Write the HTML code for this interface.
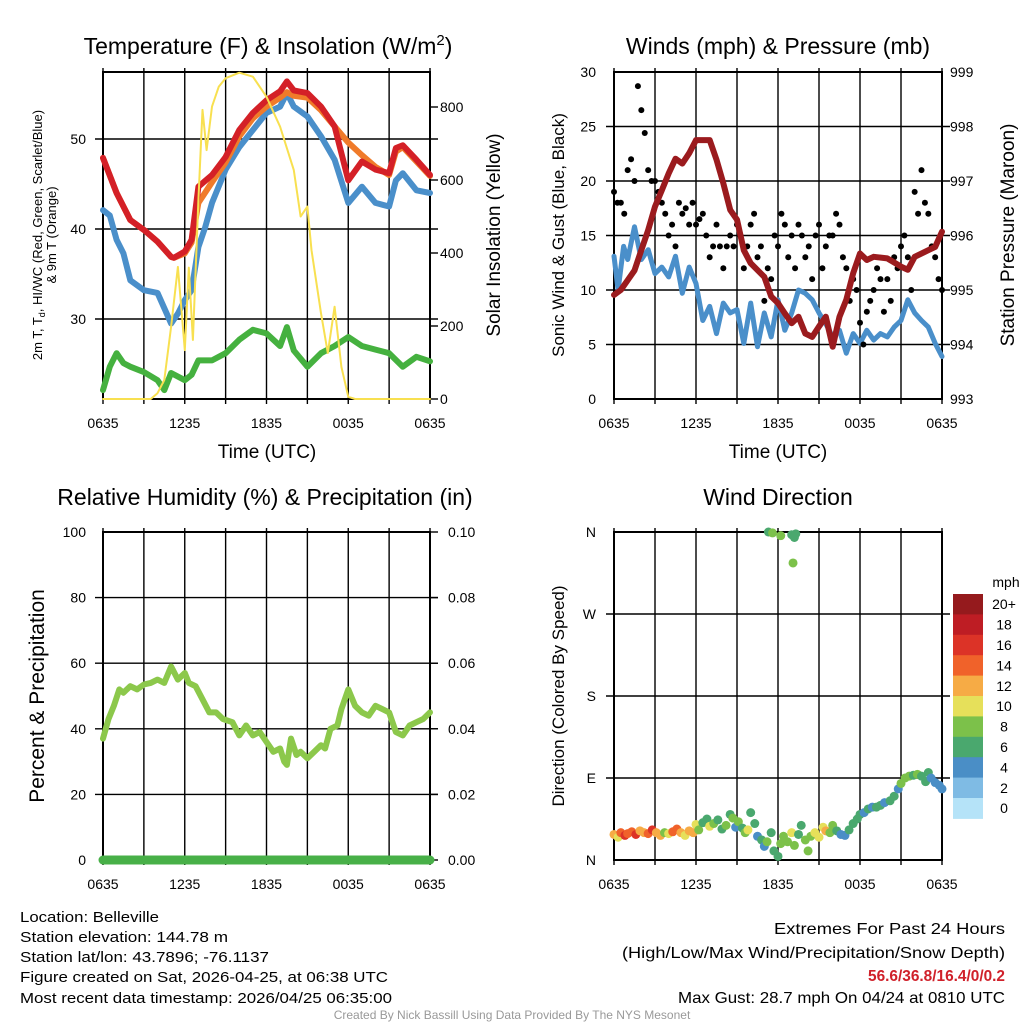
<!DOCTYPE html>
<html><head><meta charset="utf-8"><style>
html,body{margin:0;padding:0;background:#fff;}
svg{display:block;font-family:"Liberation Sans",sans-serif;}
</style></head><body>
<svg id="root" width="1024" height="1024" viewBox="0 0 1024 1024">
<rect width="1024" height="1024" fill="#fff"/>
<g id="p1"></g>
<g id="p2"></g>
<g id="p3"></g>
<g id="p4"></g>
<g font-size="15" fill="#000">
<text x="20" y="922" textLength="139" lengthAdjust="spacingAndGlyphs">Location: Belleville</text>
<text x="20" y="942" textLength="208" lengthAdjust="spacingAndGlyphs">Station elevation: 144.78 m</text>
<text x="20" y="962" textLength="249" lengthAdjust="spacingAndGlyphs">Station lat/lon: 43.7896; -76.1137</text>
<text x="20" y="982" textLength="368" lengthAdjust="spacingAndGlyphs">Figure created on Sat, 2026-04-25, at 06:38 UTC</text>
<text x="20" y="1003" textLength="372" lengthAdjust="spacingAndGlyphs">Most recent data timestamp: 2026/04/25 06:35:00</text>
</g>
<g font-size="16" text-anchor="end">
<text x="1005" y="934" textLength="231" lengthAdjust="spacingAndGlyphs">Extremes For Past 24 Hours</text>
<text x="1005" y="958" textLength="383" lengthAdjust="spacingAndGlyphs">(High/Low/Max Wind/Precipitation/Snow Depth)</text>
<text x="1005" y="981" textLength="137" lengthAdjust="spacingAndGlyphs" fill="#d0212a" font-weight="bold">56.6/36.8/16.4/0/0.2</text>
<text x="1005" y="1003" textLength="327" lengthAdjust="spacingAndGlyphs">Max Gust: 28.7 mph On 04/24 at 0810 UTC</text>
</g>
<text x="512" y="1019" font-size="12" fill="#999" text-anchor="middle">Created By Nick Bassill Using Data Provided By The NYS Mesonet</text>
</svg>
<script>
// ---- data ----
const xTickLabels = ["0635","1235","1835","0035","0635"];
// Panel 1
const tempTimes = [0,1,2,3,4,5,5.2,6,6.5,7,8,9,10,11,12,13,13.5,14,15,16,17,18,19,20,21,21.5,22,23,24];
const temp2m   = [47.9,44,41,39.9,38.6,36.9,36.8,37.5,38.8,44.7,46,48,51,52.9,54.3,55.3,56.4,55.4,55.1,53.6,51.4,45.4,47.5,46.6,46.2,49,49.3,47.7,46];
const temp9m   = [47.9,44,41,39.9,38.6,36.9,36.8,37.3,38.5,42.9,45.2,47.4,50.3,52.3,53.6,54.6,55.2,54.8,54.6,53.2,51.4,49.6,48.2,46.9,46,48.6,49.1,47.5,45.9];
const dewTimes = [0,0.5,1,1.5,2,3,4,5,5.5,6,6.5,7,7.5,8,9,10,11,12,13,13.5,14,15,16,17,18,19,20,21,21.5,22,23,24];
const dewpoint = [42.1,41.5,38.8,37.3,34.3,33.2,32.9,29.5,30.6,32.1,33.2,38,40.2,42.9,46.6,49.1,51,52.9,53.6,55.1,53.6,52.5,50.3,47.7,42.9,44.7,42.9,42.5,45.4,46.2,44.3,44];
const grnTimes = [0,0.5,1,1.5,2,3,4,4.5,5,6,6.5,7,8,9,10,11,12,13,13.5,14,15,16,17,18,19,20,21,22,23,24];
const greenT   = [22.1,24.7,26.2,25.1,24.7,24.1,23.2,22.1,24,23.2,23.8,25.4,25.4,26.2,27.7,28.8,28.4,27,29.1,26.5,24.7,26.2,27,28,27,26.6,26.2,24.7,25.8,25.3];
const solTimes = [0,3.5,4,4.5,5,5.5,6,6.3,6.6,7,7.3,7.6,8,8.5,9,10,11,12,13,14,14.5,15,15.3,16,16.5,17,17.5,18,18.5,24];
const solar    = [0,0,16,52,198,362,134,360,162,545,792,682,801,856,879,894,883,828,746,627,500,527,408,235,126,253,88,6,0,0];
// Panel 2
const windTimes = [0,0.3,0.7,1,1.5,2,2.5,3,3.5,4,4.5,5,5.5,6,6.5,7,7.5,8,8.5,9,9.5,10,10.5,11,11.5,12,12.5,13,13.5,14,14.5,15,15.5,16,16.5,17,17.5,18,18.5,19,19.5,20,20.5,21,21.5,22,22.5,23,23.5,24];
const sonicWind = [13.1,10,14,12.8,15.8,12.8,13.7,11.5,12.1,11.2,13.1,9.7,12.1,10.6,7.2,8.5,6,8.8,7.9,8.2,5.1,8.8,4.8,7.9,5.7,9.1,6.3,7.9,10,9.7,9.1,7.9,6.9,5.7,6.3,4.2,6,5.1,6.3,5.4,6,5.7,6.6,7.2,9.1,7.9,7.2,6.6,5.1,3.9];
const gust = [19,18,18,17,21,22,20,28.7,26.5,24.4,21,20,20,19,18,17,15,16,14,18,17,17.5,16,18,16,16.5,17,15,13,14,16,14,12,14,15,14,16,15,12,14,16,17,13,14,9,12,11,15,14,17,16,13,15,12,16,15,13,14,11,15,16,12,14,15,15,17,16,13,12,9,11,10,7,5,8,9,10,12,11,8,11,9,13,12,14,15,13,10,19,17,21,18,17,14,13,11,10];
const presTimes = [0,0.5,1,1.5,2,2.5,3,3.5,4,4.5,5,5.5,6,6.5,7,7.5,8,8.5,9,9.5,10,11,11.5,12,12.5,13,13.5,14,14.5,15,15.5,16,16.5,17,17.5,18,18.5,19,20,21,21.5,22,23,23.5,24];
const pressure = [994.91,995.0,995.18,995.36,995.73,996.1,996.53,996.83,997.14,997.41,997.32,997.51,997.75,997.75,997.75,997.39,996.96,996.47,996.29,995.73,995.49,995.24,994.88,994.76,994.57,994.39,994.51,994.2,994.14,994.33,994.51,993.96,994.51,994.82,995.31,995.67,995.55,995.61,995.58,995.43,995.37,995.61,995.73,995.79,996.07];
// Panel 3
const rhTimes = [0,0.4,0.8,1.2,1.5,2,2.5,3,3.5,4,4.5,5,5.5,6,6.3,6.8,7.3,7.8,8.3,8.8,9.5,10,10.5,11,11.5,12,12.5,13,13.3,13.5,13.8,14.2,14.5,15,15.5,16,16.3,16.7,17.2,17.5,18,18.5,19,19.5,20,20.5,21,21.5,22,22.5,23,23.5,24];
const rh = [37,43,47,52,51,53,52,53.5,54,55,54,59,55,57,54,53,49,45,45,43,42,38,41,38,39,36,33,34,30,29,37,32,33,31,33,35,34,40,41,46,52,47,45,44,47,46,45,39,38,41,42,43,45];
const precipTimes = [0,24];
const precip = [0,0];
// Panel 4
const dirTimes = [0,0.3,0.5,0.8,1.0,1.3,1.6,1.9,2.2,2.5,2.8,3.1,3.4,3.7,4.0,4.3,4.6,4.9,5.2,5.5,5.8,6.0,6.2,6.5,6.8,7.0,7.3,7.6,7.9,8.2,8.5,8.7,8.9,9.1,9.4,9.6,9.8,10.0,10.3,10.5,10.8,11.0,11.2,11.5,11.7,12.0,12.2,12.4,12.7,13.0,13.2,13.5,13.7,14.0,14.2,14.4,14.7,15.0,15.3,15.5,15.8,16.0,16.3,16.6,16.9,17.2,17.5,17.8,18.0,18.3,18.6,18.9,19.2,19.5,19.8,20.2,20.5,20.8,21.0,21.3,21.6,21.9,22.2,22.5,22.8,23.0,23.2,23.5,23.8,24.0,11.3,11.6,12.2,13.0,13.3,13.2,13.1];
const dirDeg = [28,25,30,27,29,31,28,32,30,29,33,30,27,30,29,31,34,30,27,32,30,39,33,41,45,37,40,44,34,38,50,46,36,42,35,30,33,52,40,26,22,15,20,30,10,4,18,26,20,30,16,28,38,22,10,26,30,25,36,32,30,38,32,28,27,33,40,45,50,52,56,58,58,60,63,65,70,78,84,90,92,93,94,92,86,96,90,85,82,78,360,359,356,357,358,354,326];
const dirSpeed = [12,10,14,16,15,14,17,13,12,14,17,12,13,8,11,14,15,12,11,12,13,10,8,6,7,10,8,6,7,8,6,8,4,8,7,8,11,6,6,4,6,4,8,6,6,6,8,8,8,10,8,6,6,8,8,8,10,10,10,12,8,8,6,4,4,6,6,6,6,4,6,4,6,6,4,6,6,4,8,8,8,6,8,6,6,6,4,4,4,4,6,8,8,6,6,7,8];
const cbLabels = ["20+","18","16","14","12","10","8","6","4","2","0"];
const cbColors = ["#951a1d","#be1d24","#dc3327","#f0622a","#f6ab45","#e6e05a","#7cc14a","#4aa86e","#4a8ec6","#7fbbe4","#b5e3f8"];

const NS="http://www.w3.org/2000/svg";
function mk(tag, parent){const e=document.createElementNS(NS,tag);parent.appendChild(e);return e;}
function sa(e,o){for(const k in o)e.setAttribute(k,o[k]);return e;}
const X0_L=103,X1_L=430,X0_R=614,X1_R=942;
function xs(x0,x1){return t=>x0+t*(x1-x0)/24;}
function ys(y0,y1,v0,v1){return v=>y0+(v-v0)*(y1-y0)/(v1-v0);}

function frame(g,x0,x1,y0,y1,hGrid,title,titleX,titleY){
  for(let i=0;i<=8;i++){const x=x0+i*(x1-x0)/8;
    const l=mk('line',g);sa(l,{x1:x,x2:x,y1:y0-4,y2:y1+5,stroke:'#000','stroke-width':1.4});
    
    }
  hGrid.forEach(y=>{const l=mk('line',g);sa(l,{x1:x0-8,x2:x1+8,y1:y,y2:y,stroke:'#000','stroke-width':1.4});
    
    });
  const r=mk('rect',g);sa(r,{x:x0,y:y0,width:x1-x0,height:y1-y0,fill:'none',stroke:'#000','stroke-width':2});
  
  
  xTickLabels.forEach((s,i)=>{const t=mk('text',g);sa(t,{x:x0+i*(x1-x0)/4,y:y1+29,'font-size':14,'text-anchor':'middle'});t.textContent=s;
    
    });
  const tt=mk('text',g);sa(tt,{x:titleX,y:titleY,'font-size':23,'text-anchor':'middle'});tt.innerHTML=title;
  
  
}
function label(g,x,y,s,anchor,size,name){const t=mk('text',g);sa(t,{x:x,y:y,'font-size':size||14,'text-anchor':anchor||'end','dominant-baseline':'central'});t.textContent=s;
  
  return t;}
function vlabel(g,x,y,s,size,name){const t=mk('text',g);sa(t,{x:0,y:0,'font-size':size,'text-anchor':'middle',transform:`translate(${x},${y}) rotate(-90)`});t.innerHTML=s;
  
  return t;}
function line(g,ts,vs,X,Y,color,w,name){const p=mk('polyline',g);
  sa(p,{points:ts.map((t,i)=>X(t).toFixed(1)+','+Y(vs[i]).toFixed(1)).join(' '),fill:'none',stroke:color,'stroke-width':w,'stroke-linejoin':'round','stroke-linecap':'round'});
  
  return p;}

// ---- Panel 1 ----
(function(){
  const g=document.getElementById('p1');const Y0=72,Y1=399;
  const X=xs(X0_L,X1_L);const YT=ys(319,229,30,40);const YS=ys(399,253,0,400);
  frame(g,X0_L,X1_L,Y0,Y1,[YT(30),YT(40),YT(50)],'Temperature (F) &amp; Insolation (W/m<tspan dy="-9" font-size="15">2</tspan><tspan dy="9">)</tspan>',268,54);
  [30,40,50].forEach(v=>label(g,86,YT(v),String(v),'end',14,'temp-tick-label'));
  [0,200,400,600,800].forEach(v=>{label(g,440,YS(v),String(v),'start',14,'solar-tick-label');
    const l=mk('line',g);sa(l,{x1:X1_L,x2:X1_L+8,y1:YS(v),y2:YS(v),stroke:'#000','stroke-width':1.4});
    
    });
  vlabel(g,42,235,'2m T, T<tspan dy="3" font-size="9">d</tspan><tspan dy="-3">, HI/WC (Red, Green, Scarlet/Blue)</tspan>',13,'temp-axis-title');
  vlabel(g,56,235,'&amp; 9m T (Orange)',13,'temp-axis-title-line2');
  vlabel(g,500,235,'Solar Insolation (Yellow)',19,'solar-axis-title');
  line(g,grnTimes,greenT,X,YT,'#45b13f',6,'green-series');
  line(g,dewTimes,dewpoint,X,YT,'#4a8fca',6,'dewpoint-series');
  line(g,tempTimes,temp9m,X,YT,'#f07b2a',6,'temp-9m-series');
  line(g,tempTimes,temp2m,X,YT,'#d42027',6,'temp-2m-series');
  line(g,solTimes,solar,X,YS,'#f8e050',2,'solar-series');
  const xt=mk('text',g);sa(xt,{x:267,y:458,'font-size':19,'text-anchor':'middle'});xt.textContent='Time (UTC)';
  
  
})();

// ---- Panel 2 ----
(function(){
  const g=document.getElementById('p2');const Y0=72,Y1=399;
  const X=xs(X0_R,X1_R);const YW=ys(399,72,0,30);const YP=ys(399,72,993,999);
  frame(g,X0_R,X1_R,Y0,Y1,[5,10,15,20,25].map(YW),'Winds (mph) &amp; Pressure (mb)',778,54);
  [0,5,10,15,20,25,30].forEach(v=>label(g,596,YW(v),String(v),'end',14,'wind-tick-label'));
  [993,994,995,996,997,998,999].forEach(v=>label(g,950,YP(v),String(v),'start',14,'pressure-tick-label'));
  vlabel(g,564,235,'Sonic Wind &amp; Gust (Blue, Black)',17,'wind-axis-title');
  vlabel(g,1014,235,'Station Pressure (Maroon)',19,'pressure-axis-title');
  line(g,windTimes,sonicWind,X,YW,'#4a8fca',5,'sonic-wind-series');
  gust.forEach((v,i)=>{const c=mk('circle',g);sa(c,{cx:X(i*24/(gust.length-1)),cy:YW(v),r:3,fill:'#000'});
    
    });
  line(g,presTimes,pressure,X,YP,'#9b1b1e',6,'pressure-series');
  const xt=mk('text',g);sa(xt,{x:778,y:458,'font-size':19,'text-anchor':'middle'});xt.textContent='Time (UTC)';
  
  
})();

// ---- Panel 3 ----
(function(){
  const g=document.getElementById('p3');const Y0=532,Y1=860;
  const X=xs(X0_L,X1_L);const YR=ys(860,532,0,100);const YPr=ys(860,532,0,0.1);
  frame(g,X0_L,X1_L,Y0,Y1,[20,40,60,80].map(YR),'Relative Humidity (%) &amp; Precipitation (in)',265,505);
  [0,20,40,60,80,100].forEach(v=>label(g,86,YR(v),String(v),'end',14,'rh-tick-label'));
  [0,0.02,0.04,0.06,0.08,0.1].forEach(v=>{label(g,448,YPr(v),v.toFixed(2),'start',14,'precip-tick-label');
    const l=mk('line',g);sa(l,{x1:X1_L,x2:X1_L+8,y1:YPr(v),y2:YPr(v),stroke:'#000','stroke-width':1.4});
    
    });
  vlabel(g,44,696,'Percent &amp; Precipitation',21,'rh-axis-title');
  line(g,rhTimes,rh,X,YR,'#8cc84b',6,'rh-series');
  line(g,precipTimes,precip,X,YPr,'#48b048',9,'precip-series');
})();

// ---- Panel 4 ----
(function(){
  const g=document.getElementById('p4');const Y0=532,Y1=860;
  const X=xs(X0_R,X1_R);const YD=ys(860,532,0,360);
  frame(g,X0_R,X1_R,Y0,Y1,[90,180,270].map(YD),'Wind Direction',778,505);
  ["N","E","S","W","N"].forEach((s,i)=>label(g,596,YD(i*90),s,'end',14,'direction-tick-label'));
  vlabel(g,564,696,'Direction (Colored By Speed)',17,'direction-axis-title');
  dirTimes.forEach((t,i)=>{const s=dirSpeed[i];const idx=Math.min(10,Math.floor(s/2));
    const c=mk('circle',g);sa(c,{cx:X(t),cy:YD(dirDeg[i]),r:4.5,fill:cbColors[10-idx]});
    
    });
  const h=20.4;
  cbColors.forEach((col,i)=>{const r=mk('rect',g);sa(r,{x:953,y:594+i*h,width:30,height:h+0.5,fill:col});
    
    
    label(g,1004,594+i*h+h/2,cbLabels[i],'middle',14,'colorbar-label');});
  label(g,1006,582,'mph','middle',14,'colorbar-title');
})();
</script>
</body></html>
